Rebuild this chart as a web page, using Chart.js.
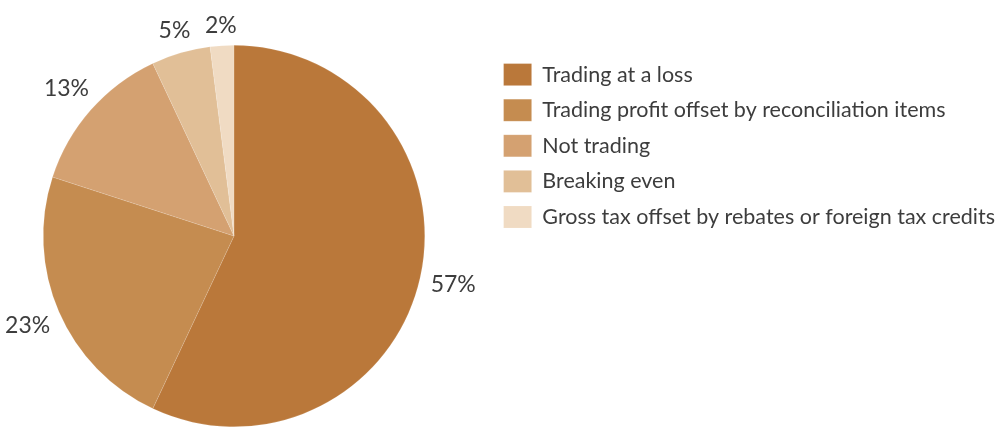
<!DOCTYPE html>
<html lang="en">
<head>
  <meta charset="UTF-8">
  <title>Tax position of companies</title>
  <script src="https://cdn.jsdelivr.net/npm/chart.js"></script>
  <style>
    body {
      margin: 0;
      background: #fff;
      overflow: hidden;
    }
    /* the pie sits a little left of its own area, so the canvas is widened and pulled left */
    canvas {
      display: block;
      margin-left: -22px;
    }
  </style>
</head>
<body>
  <canvas id="pieChart" width="1024" height="427"></canvas>

  <script>
    // Slice data, clockwise from 12 o'clock
    const categories = [
      'Trading at a loss',
      'Trading profit offset by reconciliation items',
      'Not trading',
      'Breaking even',
      'Gross tax offset by rebates or foreign tax credits'
    ];
    const shares = [57, 23, 13, 5, 2];
    const sliceColours = ['#ba783a', '#c58c50', '#d4a171', '#e1bf97', '#f0dbc3'];

    const textColour = '#3d3d3d';
    const fontFamily = 'Lato, "Liberation Sans", sans-serif';

    // Writes "NN%" just outside each slice, so that the text box clears the rim by a small gap
    const percentLabels = {
      id: 'percentLabels',
      afterDatasetsDraw(chart) {
        const ctx = chart.ctx;
        const meta = chart.getDatasetMeta(0);
        const size = 23;
        const gap = 10;
        ctx.save();
        ctx.font = size + 'px ' + fontFamily;
        ctx.fillStyle = textColour;
        ctx.textAlign = 'center';
        ctx.textBaseline = 'middle';
        meta.data.forEach((arc, i) => {
          const p = arc.getProps(['x', 'y', 'startAngle', 'endAngle', 'outerRadius'], true);
          const mid = (p.startAngle + p.endAngle) / 2;
          const text = shares[i] + '%';
          const w = ctx.measureText(text).width;
          const h = size * 0.75;
          const cos = Math.cos(mid), sin = Math.sin(mid);
          const dist = p.outerRadius + gap + Math.abs(cos) * w / 2 + Math.abs(sin) * h / 2;
          ctx.fillText(text, p.x + cos * dist, p.y + sin * dist);
        });
        ctx.restore();
      }
    };

    new Chart(document.getElementById('pieChart'), {
      type: 'pie',
      data: {
        labels: categories,
        datasets: [{
          data: shares,
          backgroundColor: sliceColours,
          borderColor: 'rgba(255, 255, 255, 0.25)',
          borderWidth: 0.5
        }]
      },
      options: {
        responsive: false,
        animation: false,
        layout: {
          padding: { top: 45, bottom: 0, left: 0, right: 0 }
        },
        plugins: {
          legend: {
            position: 'right',
            align: 'start',
            // empty title only pushes the rows down a few pixels
            title: {
              display: true,
              text: '',
              font: { size: 0 },
              padding: { top: 5, bottom: 0 }
            },
            labels: {
              boxWidth: 28,
              boxHeight: 22,
              padding: 13.6,
              color: textColour,
              font: { family: fontFamily, size: 21.5 }
            }
          },
          tooltip: { enabled: false }
        }
      },
      plugins: [percentLabels]
    });
  </script>
</body>
</html>
